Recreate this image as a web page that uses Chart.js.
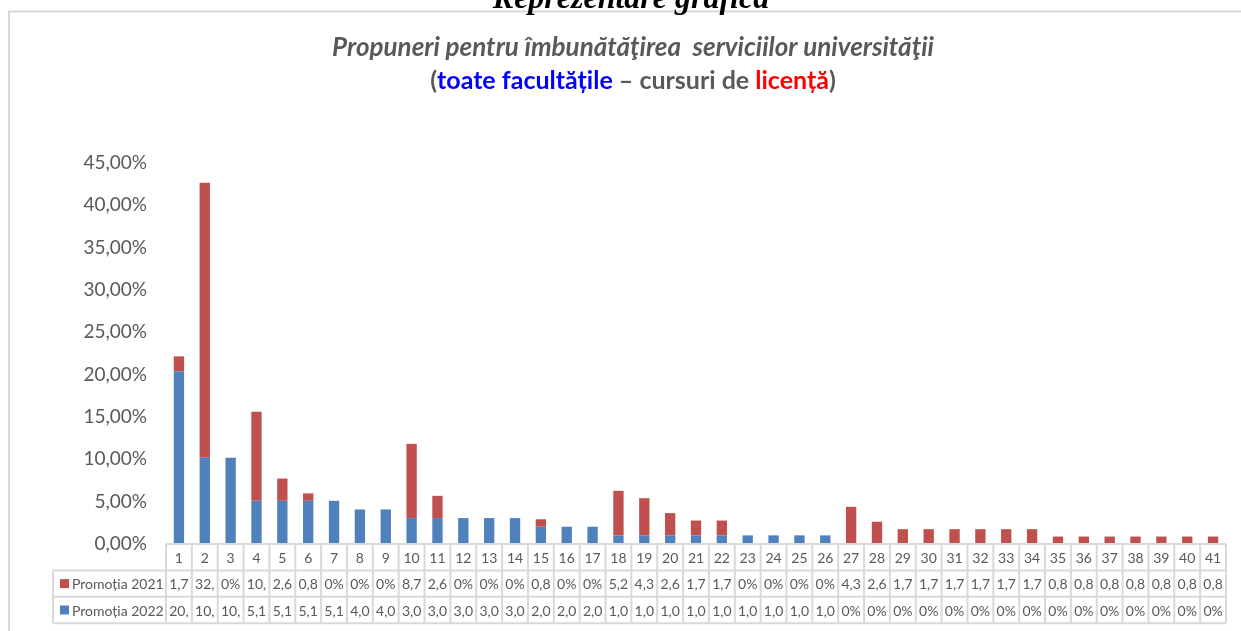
<!DOCTYPE html>
<html>
<head>
<meta charset="utf-8">
<script src="https://cdn.jsdelivr.net/npm/chart.js@4.4.0/dist/chart.umd.min.js"></script>
<style>
  html, body { margin: 0; padding: 0; background: #fff; }
  canvas { display: block; }
</style>
</head>
<body>
<canvas id="chart" width="1241" height="631"></canvas>
<script>
// Propuneri pentru imbunatatirea serviciilor universitatii - stacked bars + data table
const categories = ['1','2','3','4','5','6','7','8','9','10','11','12','13','14','15','16','17','18','19','20','21',
  '22','23','24','25','26','27','28','29','30','31','32','33','34','35','36','37','38','39','40','41'];

const promo2021 = [1.75, 32.46, 0, 10.53, 2.63, 0.88, 0, 0, 0, 8.77, 2.63, 0, 0, 0, 0.88, 0, 0, 5.26, 4.39, 2.63, 1.75,
  1.75, 0, 0, 0, 0, 4.39, 2.63, 1.75, 1.75, 1.75, 1.75, 1.75, 1.75, 0.88, 0.88, 0.88, 0.88, 0.88, 0.88, 0.88];

const promo2022 = [20.41, 10.20, 10.20, 5.10, 5.10, 5.10, 5.10, 4.08, 4.08, 3.06, 3.06, 3.06, 3.06, 3.06, 2.04, 2.04, 2.04, 1.02, 1.02, 1.02, 1.02,
  1.02, 1.02, 1.02, 1.02, 1.02, 0, 0, 0, 0, 0, 0, 0, 0, 0, 0, 0, 0, 0, 0, 0];

const seriesNames = ['Promoția 2021', 'Promoția 2022'];
const yMax = 45;
const yStep = 5;

const BLUE = '#4F81BD';
const RED = '#C0504D';
const GRAY = '#595959';
const LINE = '#d9d9d9';
const FONT = 'Lato, "Open Sans", sans-serif';

function pct(v, decimals) {
  return v.toFixed(decimals).replace('.', ',') + '%';
}

// Excel clips cell text that does not fit
function fitText(ctx, txt, maxW) {
  let s = txt;
  while (s.length > 1 && ctx.measureText(s).width > maxW) s = s.slice(0, -1);
  return s;
}

const decorPlugin = {
  id: 'decor',
  afterDraw(chart) {
    const ctx = chart.ctx;
    const area = chart.chartArea;
    ctx.save();

    // outer frame of the chart object
    ctx.strokeStyle = LINE;
    ctx.lineWidth = 2;
    ctx.strokeRect(9, 11.5, 1300, 700);

    // heading above the frame, cut off at the top of the page
    ctx.fillStyle = '#000';
    ctx.font = 'bold italic 32px "Liberation Serif", serif';
    ctx.textAlign = 'center';
    ctx.textBaseline = 'alphabetic';
    ctx.fillText('Reprezentare grafică', 631, 8);

    // chart title, line 1
    ctx.fillStyle = GRAY;
    ctx.font = 'bold italic 26px ' + FONT;
    ctx.textBaseline = 'middle';
    ctx.fillText('Propuneri pentru îmbunătăţirea  serviciilor universităţii', 633, 48);

    // chart title, line 2 (multicolour)
    ctx.font = 'bold 25px ' + FONT;
    const parts = [
      ['(', GRAY], ['toate facultățile', '#0000FF'], [' – cursuri de ', GRAY], ['licență', '#FF0000'], [')', GRAY]
    ];
    const total = parts.reduce((w, p) => w + ctx.measureText(p[0]).width, 0);
    let tx = 633 - total / 2;
    ctx.textAlign = 'left';
    parts.forEach(p => {
      ctx.fillStyle = p[1];
      ctx.fillText(p[0], tx, 81);
      tx += ctx.measureText(p[0]).width;
    });

    // data table
    const n = categories.length;
    const colW = (area.right - area.left) / n;
    const rowH = 26.4;
    const top = area.bottom;
    const legendLeft = 53;

    ctx.strokeStyle = LINE;
    ctx.lineWidth = 2;
    ctx.beginPath();
    ctx.moveTo(area.left, top); ctx.lineTo(area.right, top);
    for (let r = 1; r <= 3; r++) {
      ctx.moveTo(legendLeft, top + r * rowH); ctx.lineTo(area.right, top + r * rowH);
    }
    for (let i = 0; i <= n; i++) {
      const x = area.left + i * colW;
      ctx.moveTo(x, top); ctx.lineTo(x, top + 3 * rowH);
    }
    ctx.moveTo(legendLeft, top + rowH); ctx.lineTo(legendLeft, top + 3 * rowH);
    ctx.stroke();

    ctx.font = '14px ' + FONT;
    ctx.fillStyle = GRAY;
    ctx.textAlign = 'center';
    ctx.textBaseline = 'middle';
    const rows = [promo2021, promo2022];
    categories.forEach((c, i) => {
      const cx = chart.scales.x.getPixelForValue(i);
      ctx.fillText(c, cx, top + rowH / 2 + 1);
      rows.forEach((vals, r) => {
        const v = vals[i];
        const txt = v === 0 ? '0%' : pct(v, 2);
        ctx.fillText(fitText(ctx, txt, colW - 3), cx, top + rowH * (r + 1.5) + 1);
      });
    });

    // legend keys in the table
    const keyColors = [RED, BLUE];
    ctx.textAlign = 'left';
    seriesNames.forEach((name, r) => {
      const cy = top + rowH * (r + 1.5);
      ctx.fillStyle = keyColors[r];
      ctx.fillRect(60, cy - 4.5, 9, 9);
      ctx.fillStyle = GRAY;
      ctx.fillText(name, 72, cy + 1);
    });

    ctx.restore();
  }
};

new Chart(document.getElementById('chart'), {
  type: 'bar',
  data: {
    labels: categories,
    datasets: [
      { label: seriesNames[1], data: promo2022, backgroundColor: BLUE },
      { label: seriesNames[0], data: promo2021, backgroundColor: RED }
    ]
  },
  options: {
    responsive: false,
    animation: false,
    devicePixelRatio: 1,
    layout: { padding: { top: 163, bottom: 87, left: 0, right: 15 } },
    datasets: { bar: { categoryPercentage: 1, barPercentage: 0.4 } },
    plugins: {
      legend: { display: false },
      title: { display: false },
      tooltip: { enabled: false }
    },
    scales: {
      x: {
        stacked: true,
        display: false
      },
      y: {
        stacked: true,
        min: 0,
        max: yMax,
        afterFit(scale) { scale.width = 166; },
        grid: { display: false, drawTicks: false },
        border: { display: false },
        ticks: {
          stepSize: yStep,
          padding: 19,
          color: GRAY,
          font: { family: FONT, size: 19 },
          callback: v => pct(v, 2)
        }
      }
    }
  },
  plugins: [decorPlugin]
});
</script>
</body>
</html>
